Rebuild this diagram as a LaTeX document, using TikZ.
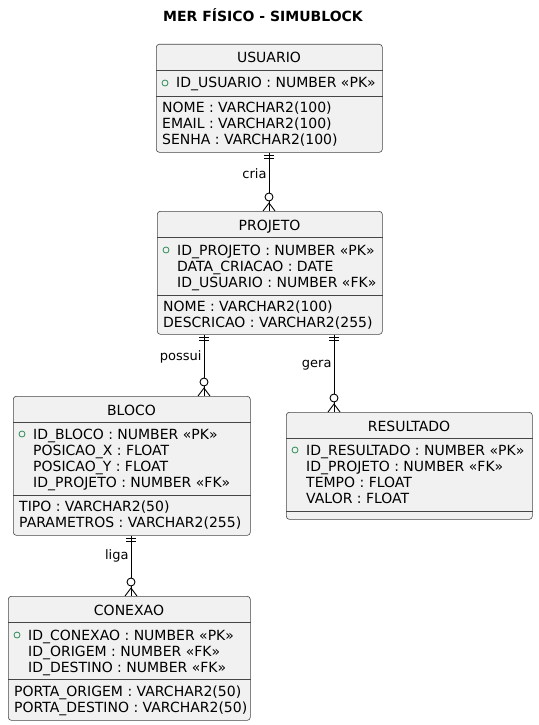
\documentclass[tikz,border=0pt]{standalone}
\usepackage{fontspec}
\setmainfont{DejaVu Sans}
\usetikzlibrary{positioning}
\definecolor{entfill}{HTML}{F1F1F1}
\definecolor{entline}{HTML}{181818}
\definecolor{pkgreen}{HTML}{2E8B57}
\tikzset{entity/.style={draw=entline!80,line width=0.6pt,fill=entfill,rounded corners=3pt,inner sep=0pt,anchor=north west}}
\tikzset{sepline/.style={draw=entline!80,line width=0.6pt}}
\tikzset{enttitle/.style={anchor=base,inner sep=0pt}}
\tikzset{attr/.style={anchor=base west,inner sep=0pt}}
\tikzset{pkdot/.style={circle,draw=pkgreen,line width=0.8pt,minimum size=6pt,inner sep=0pt}}
\tikzset{rel/.style={draw=black,line width=0.9pt}}
\tikzset{rellabel/.style={left,inner sep=2pt,font=\fontsize{13}{15}\selectfont}}
\tikzset{onemark/.pic={\draw[rel] (-5,3) -- (5,3) (-5,6) -- (5,6);}}
\tikzset{manymark/.pic={\draw[rel] (-6,0) -- (0,-8) -- (6,0); \draw[rel,fill=white] (0,-14) circle (4pt);}}

\begin{document}
\begin{tikzpicture}[x=1pt,y=-1pt,font=\fontsize{14}{16}\selectfont]
    \path[fill=white] (0,0) rectangle (538,725);
    \useasboundingbox (0,0) rectangle (538,725);

    \node[enttitle,font=\fontsize{14}{16}\selectfont\bfseries] (title) at (263,22) {MER FÍSICO - SIMUBLOCK};

    % USUARIO
    \node[entity,minimum width=226pt,minimum height=108pt] (usuario) at (156,44) {};
    \node[enttitle] (usuario-t) at (269,63) {USUARIO};
    \draw[sepline] (usuario.west |- 0,70) -- (usuario.east |- 0,70);
    \node[pkdot] (usuario-k) at (165,83) {};
    \node[attr] (usuario-a1) at (176,88) {ID\_USUARIO : NUMBER «PK»};
    \draw[sepline] (usuario.west |- 0,96) -- (usuario.east |- 0,96);
    \node[attr] (usuario-a2) at (162,112) {NOME : VARCHAR2(100)};
    \node[attr] (usuario-a3) at (162,128) {EMAIL : VARCHAR2(100)};
    \node[attr] (usuario-a4) at (162,144) {SENHA : VARCHAR2(100)};

    % PROJETO
    \node[entity,minimum width=225pt,minimum height=123pt] (projeto) at (157,211) {};
    \node[enttitle] (projeto-t) at (269.5,230) {PROJETO};
    \draw[sepline] (projeto.west |- 0,237) -- (projeto.east |- 0,237);
    \node[pkdot] (projeto-k) at (166,250) {};
    \node[attr] (projeto-a1) at (177,255) {ID\_PROJETO : NUMBER «PK»};
    \node[attr] (projeto-a2) at (177,271) {DATA\_CRIACAO : DATE};
    \node[attr] (projeto-a3) at (177,287) {ID\_USUARIO : NUMBER «FK»};
    \draw[sepline] (projeto.west |- 0,295) -- (projeto.east |- 0,295);
    \node[attr] (projeto-a4) at (163,311) {NOME : VARCHAR2(100)};
    \node[attr] (projeto-a5) at (163,327) {DESCRICAO : VARCHAR2(255)};

    % BLOCO
    \node[entity,minimum width=237pt,minimum height=139pt] (bloco) at (13,396) {};
    \node[enttitle] (bloco-t) at (131.5,415) {BLOCO};
    \draw[sepline] (bloco.west |- 0,422) -- (bloco.east |- 0,422);
    \node[pkdot] (bloco-k) at (22,434) {};
    \node[attr] (bloco-a1) at (33,439) {ID\_BLOCO : NUMBER «PK»};
    \node[attr] (bloco-a2) at (33,455) {POSICAO\_X : FLOAT};
    \node[attr] (bloco-a3) at (33,471) {POSICAO\_Y : FLOAT};
    \node[attr] (bloco-a4) at (33,487) {ID\_PROJETO : NUMBER «FK»};
    \draw[sepline] (bloco.west |- 0,495) -- (bloco.east |- 0,495);
    \node[attr] (bloco-a5) at (19,511) {TIPO : VARCHAR2(50)};
    \node[attr] (bloco-a6) at (19,527) {PARAMETROS : VARCHAR2(255)};

    % RESULTADO
    \node[entity,minimum width=246pt,minimum height=107pt] (resultado) at (286,412) {};
    \node[enttitle] (resultado-t) at (409,431) {RESULTADO};
    \draw[sepline] (resultado.west |- 0,438) -- (resultado.east |- 0,438);
    \node[pkdot] (resultado-k) at (295,450) {};
    \node[attr] (resultado-a1) at (306,455) {ID\_RESULTADO : NUMBER «PK»};
    \node[attr] (resultado-a2) at (306,471) {ID\_PROJETO : NUMBER «FK»};
    \node[attr] (resultado-a3) at (306,487) {TEMPO : FLOAT};
    \node[attr] (resultado-a4) at (306,503) {VALOR : FLOAT};
    \draw[sepline] (resultado.west |- 0,511) -- (resultado.east |- 0,511);

    % CONEXAO
    \node[entity,minimum width=242pt,minimum height=124pt] (conexao) at (8,596) {};
    \node[enttitle] (conexao-t) at (129,615) {CONEXAO};
    \draw[sepline] (conexao.west |- 0,622) -- (conexao.east |- 0,622);
    \node[pkdot] (conexao-k) at (17,635) {};
    \node[attr] (conexao-a1) at (28,640) {ID\_CONEXAO : NUMBER «PK»};
    \node[attr] (conexao-a2) at (28,656) {ID\_ORIGEM : NUMBER «FK»};
    \node[attr] (conexao-a3) at (28,672) {ID\_DESTINO : NUMBER «FK»};
    \draw[sepline] (conexao.west |- 0,679) -- (conexao.east |- 0,679);
    \node[attr] (conexao-a4) at (14,696) {PORTA\_ORIGEM : VARCHAR2(50)};
    \node[attr] (conexao-a5) at (14,712) {PORTA\_DESTINO : VARCHAR2(50)};

    % relations
    \coordinate (xcria) at (269,0);
    \coordinate (xpossui) at (204,0);
    \coordinate (xgera) at (334,0);
    \coordinate (xliga) at (131,0);

    \path[rel] (usuario.south -| xcria) -- node[rellabel,pos=0.36] {cria} (projeto.north -| xcria);
    \path[rel] (projeto.south -| xpossui) -- node[rellabel,pos=0.37] {possui} (bloco.north -| xpossui);
    \path[rel] (projeto.south -| xgera) -- node[rellabel,pos=0.40] {gera} (resultado.north -| xgera);
    \path[rel] (bloco.south -| xliga) -- node[rellabel,pos=0.34] {liga} (conexao.north -| xliga);

    \pic at (usuario.south -| xcria) {onemark};
    \pic at (projeto.north -| xcria) {manymark};
    \pic at (projeto.south -| xpossui) {onemark};
    \pic at (bloco.north -| xpossui) {manymark};
    \pic at (projeto.south -| xgera) {onemark};
    \pic at (resultado.north -| xgera) {manymark};
    \pic at (bloco.south -| xliga) {onemark};
    \pic at (conexao.north -| xliga) {manymark};
\end{tikzpicture}
\end{document}
